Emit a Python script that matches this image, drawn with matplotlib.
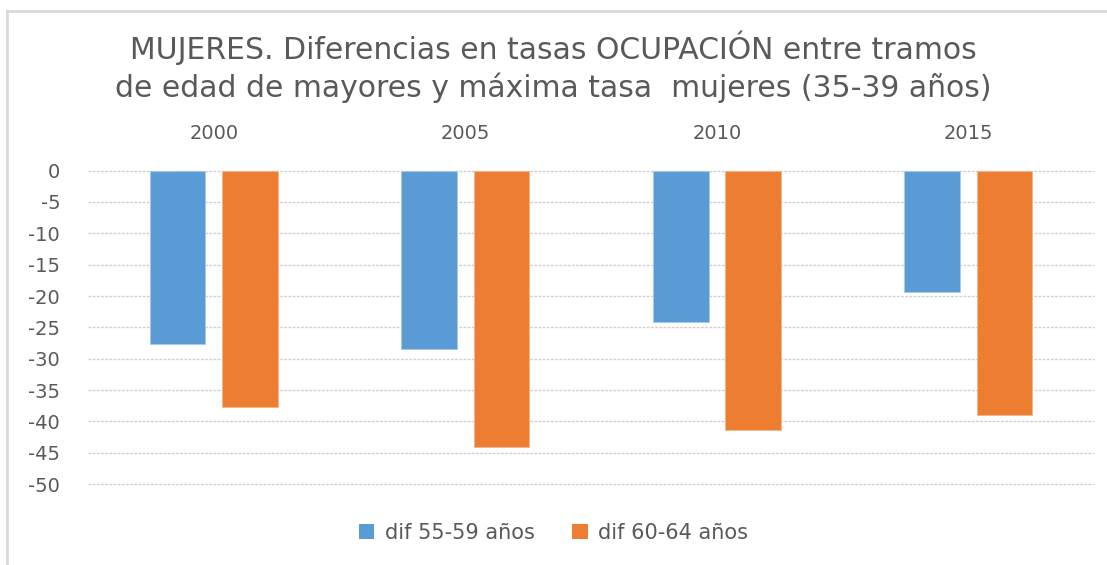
import numpy as np
import matplotlib.pyplot as plt
from matplotlib.lines import Line2D
from matplotlib.patches import Patch

years = ["2000", "2005", "2010", "2015"]
dif_55_59 = [-27.7, -28.5, -24.2, -19.3]
dif_60_64 = [-37.7, -44.1, -41.4, -38.9]
series_names = ["dif 55-59 años", "dif 60-64 años"]
y_ticks = [0, -5, -10, -15, -20, -25, -30, -35, -40, -45, -50]

BLUE = "#5B9BD5"
ORANGE = "#ED7D31"
TEXT = "#595959"
FONT = ["DejaVu Sans"]


def main():
    plt.rcParams["font.family"] = FONT
    fig = plt.figure(figsize=(11.07, 5.65), dpi=100)
    ax = fig.add_axes([0.0795, 0.1432, 0.9088, 0.5548])

    x = np.arange(len(years))
    width = 0.2215
    offset = 0.1436
    ax.bar(x - offset, dif_55_59, width, color=BLUE, edgecolor="#A9C9EA", linewidth=0.6, zorder=3)
    ax.bar(x + offset, dif_60_64, width, color=ORANGE, edgecolor="#F5B58C", linewidth=0.6, zorder=3)

    ax.set_xlim(-0.5, len(years) - 0.5)
    ax.set_ylim(-50, 0)
    ax.set_yticks(y_ticks)
    ax.set_yticklabels([str(v) for v in y_ticks])
    ax.yaxis.grid(True, color="#CFCFCF", linestyle=(0, (2, 1)), linewidth=1.0, zorder=0)
    for gl in ax.get_ygridlines():
        gl.set_clip_on(False)
    ax.set_axisbelow(True)

    ax.xaxis.tick_top()
    ax.set_xticks(x)
    ax.set_xticklabels(years)
    ax.tick_params(axis="x", length=0, pad=20, labelsize=14, labelcolor=TEXT)
    ax.tick_params(axis="y", length=0, pad=20, labelsize=14, labelcolor=TEXT)
    for s in ax.spines.values():
        s.set_visible(False)

    fig.text(0.5, 1 - 48 / 565, "MUJERES. Diferencias en tasas OCUPACIÓN entre tramos",
             ha="center", va="center", fontsize=21.5, color=TEXT)
    fig.text(0.5, 1 - 88 / 565, "de edad de mayores y máxima tasa  mujeres (35-39 años)",
             ha="center", va="center", fontsize=21.5, color=TEXT)

    handles = [Patch(facecolor=BLUE), Patch(facecolor=ORANGE)]
    fig.legend(handles, series_names, loc="center", bbox_to_anchor=(0.5, 1 - 533 / 565),
               ncol=2, frameon=False, fontsize=15, labelcolor=TEXT,
               handlelength=0.75, handleheight=0.75, handletextpad=0.5, columnspacing=1.8)

    # light chart border, only left and top are visible in the reference
    bx = 7 / 1107
    by = 1 - 11 / 565
    fig.add_artist(Line2D([bx, bx], [0, by], color="#D9D9D9", lw=2, transform=fig.transFigure))
    fig.add_artist(Line2D([bx, 1.01], [by, by], color="#D9D9D9", lw=2, transform=fig.transFigure))

    fig.savefig("out.png", dpi=100)
    plt.close(fig)


if __name__ == "__main__":
    main()
